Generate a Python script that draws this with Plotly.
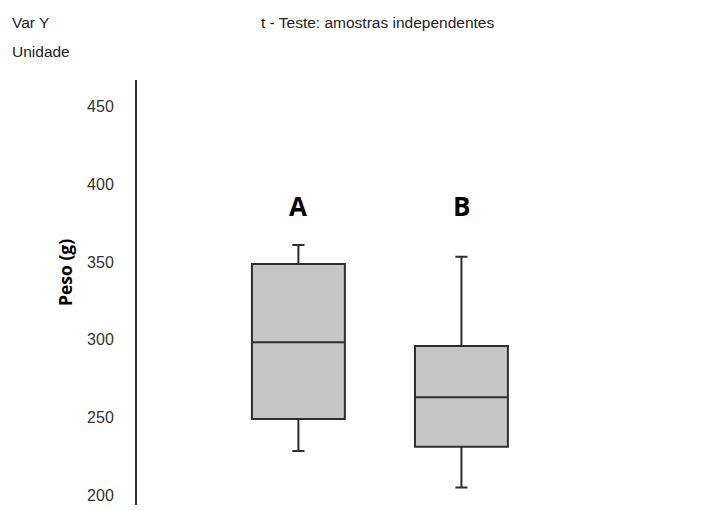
import plotly.graph_objects as go

groups = ["A", "B"]
q1 = [249.0, 231.2]
median = [298.4, 263.0]
q3 = [348.8, 296.0]
lower = [228.4, 205.0]
upper = [361.0, 353.5]
y_ticks = [200, 250, 300, 350, 400, 450]

L, R, T, B = 137, 17, 80, 5
W, H = 707, 510

fig = go.Figure()
for i, g in enumerate(groups):
    fig.add_trace(go.Box(
        x=[i], q1=[q1[i]], median=[median[i]], q3=[q3[i]],
        lowerfence=[lower[i]], upperfence=[upper[i]],
        width=0.57, whiskerwidth=0.13,
        fillcolor="#c6c6c6", line=dict(color="#2e2e2e", width=2),
        boxpoints=False, showlegend=False, name=g,
    ))
    fig.add_annotation(x=i, y=386, text="<b>%s</b>" % g, showarrow=False,
                       font=dict(family="Open Sans", size=26, color="black"),
                       xref="x", yref="y")


def px_x(px):
    return (px - L) / (W - L - R)


def px_y(py):
    return 1 - (py - T) / (H - T - B)


fig.add_annotation(xref="paper", yref="paper", x=px_x(65), y=px_y(273), text="<b>Peso (g)</b>",
                   textangle=-90, showarrow=False, xanchor="center", yanchor="middle",
                   font=dict(family="Open Sans", size=17.5, color="black"))

hdr_font = dict(family="Liberation Sans", size=15.5, color="#222")
for txt, px, py in [("Var Y", 10, 22), ("Unidade", 10, 52),
                    ("t - Teste: amostras independentes", 259, 22)]:
    fig.add_annotation(xref="paper", yref="paper", x=px_x(px), y=px_y(py), text=txt,
                       showarrow=False, xanchor="left", yanchor="middle", font=hdr_font)

fig.update_xaxes(range=[-0.990, 2.402], showticklabels=False, showgrid=False,
                 zeroline=False, showline=False, ticks="")
fig.update_yaxes(range=[193.7, 467.2], tickvals=y_ticks, showgrid=False, zeroline=False,
                 showline=True, linecolor="#333", linewidth=2, ticks="", ticklabelstandoff=18,
                 tickfont=dict(family="Liberation Sans", size=16, color="#333"))
fig.update_layout(width=W, height=H, margin=dict(l=L, r=R, t=T, b=B),
                  plot_bgcolor="white", paper_bgcolor="white")

fig.write_html("out.html")
